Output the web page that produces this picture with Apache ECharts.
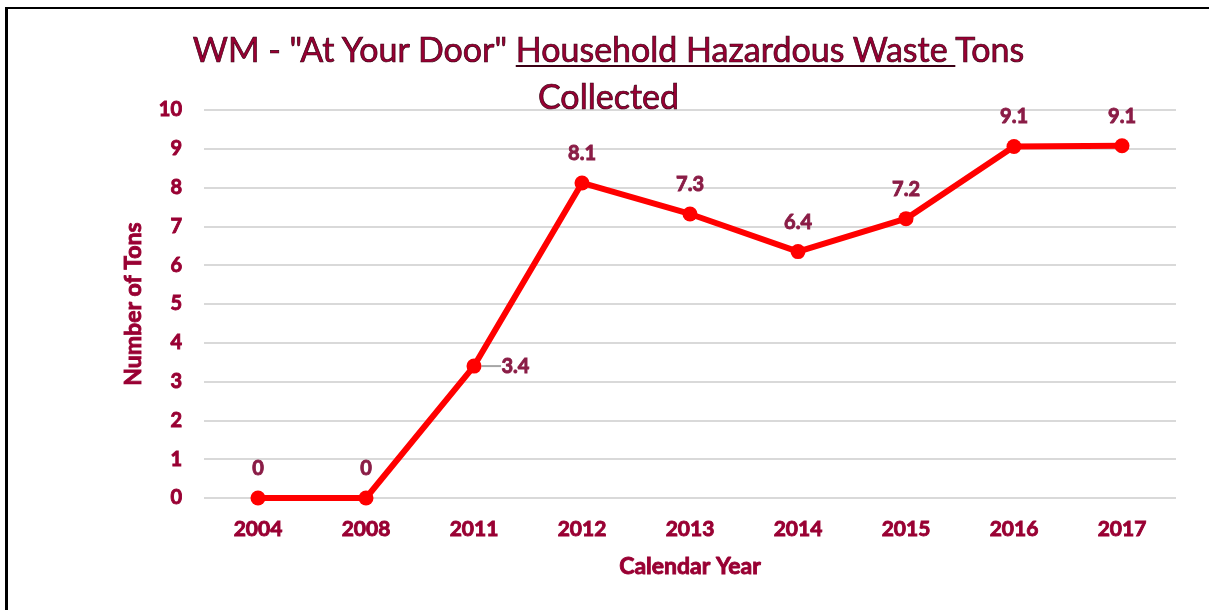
<!DOCTYPE html>
<html>
<head>
<meta charset="utf-8">
<script src="https://cdn.jsdelivr.net/npm/echarts@6/dist/echarts.min.js"></script>
<style>
  html, body { margin: 0; padding: 0; background: #fff; }
  .wrap { position: relative; width: 1209px; height: 610px; overflow: hidden; }
  .frame { position: absolute; left: 5px; top: 7px; right: -5px; bottom: -5px;
           border-left: 3px solid #000; border-top: 2px solid #000; }
  .title { position: absolute; left: 0; width: 1217px; top: 25px; text-align: center;
           font-family: Lato, sans-serif; font-size: 34px; line-height: 47px; color: #990033;
           -webkit-text-stroke: 0.7px #3a0014; }
  .title u { text-decoration-thickness: 2px; text-underline-offset: 3px; }
  #chart { position: absolute; left: 0; top: 0; width: 1209px; height: 610px; }
</style>
</head>
<body>
<div class="wrap">
  <div class="frame"></div>
  <div id="chart"></div>
  <div class="title">WM - "At Your Door" <u>Household Hazardous Waste </u>Tons<br>Collected</div>
</div>
<script>
const years = ['2004', '2008', '2011', '2012', '2013', '2014', '2015', '2016', '2017']
const tons = [0, 0, 3.4, 8.12, 7.32, 6.35, 7.2, 9.06, 9.08]
const yTicks = { min: 0, max: 10, interval: 1 }

const maroon = '#990033'
const labelColor = '#8a1c46'
// Lato bold plus a thin same-colour outline to get the heavy look
const heavy = (c) => ({ color: c, fontFamily: 'Lato', fontWeight: 'bold', textBorderColor: c, textBorderWidth: 0.9 })

// only the 2011 label sits to the right with a leader line
const points = tons.map((v, i) => i === 2
    ? { value: v, labelLine: { show: true } }
    : v)

const ec = echarts.init(document.getElementById('chart'))
ec.setOption({
    animation: false,
    grid: { left: 204, right: 33, top: 110, bottom: 112 },
    xAxis: {
        type: 'category',
        data: years,
        axisLine: { show: false },
        axisTick: { show: false },
        axisLabel: { ...heavy(maroon), fontSize: 21, margin: 21 },
        name: 'Calendar Year',
        nameLocation: 'middle',
        nameGap: 57,
        nameTextStyle: { ...heavy(maroon), fontSize: 23 }
    },
    yAxis: {
        type: 'value',
        min: yTicks.min,
        max: yTicks.max,
        interval: yTicks.interval,
        axisLine: { show: false },
        axisTick: { show: false },
        axisLabel: { ...heavy(maroon), fontSize: 20, margin: 22 },
        splitLine: { lineStyle: { color: '#d9d9d9', width: 2 } },
        name: 'Number of Tons',
        nameLocation: 'middle',
        nameGap: 59,
        nameTextStyle: { ...heavy(maroon), fontSize: 23 }
    },
    series: [{
        type: 'line',
        data: points,
        symbol: 'circle',
        symbolSize: 15,
        lineStyle: { color: '#ff0000', width: 6 },
        itemStyle: { color: '#ff0000' },
        label: {
            show: true,
            position: 'top',
            distance: 12,
            ...heavy(labelColor),
            fontSize: 20,
            formatter: p => (Math.round(p.value * 10) / 10).toString()
        },
        labelLine: { show: false, lineStyle: { color: '#a6a6a6', width: 2 } },
        labelLayout: p => p.dataIndex === 2 ? { x: p.rect.x + p.rect.width + 20, y: p.rect.y + p.rect.height / 2, verticalAlign: 'middle', align: 'left' } : {}
    }]
})
</script>
</body>
</html>
